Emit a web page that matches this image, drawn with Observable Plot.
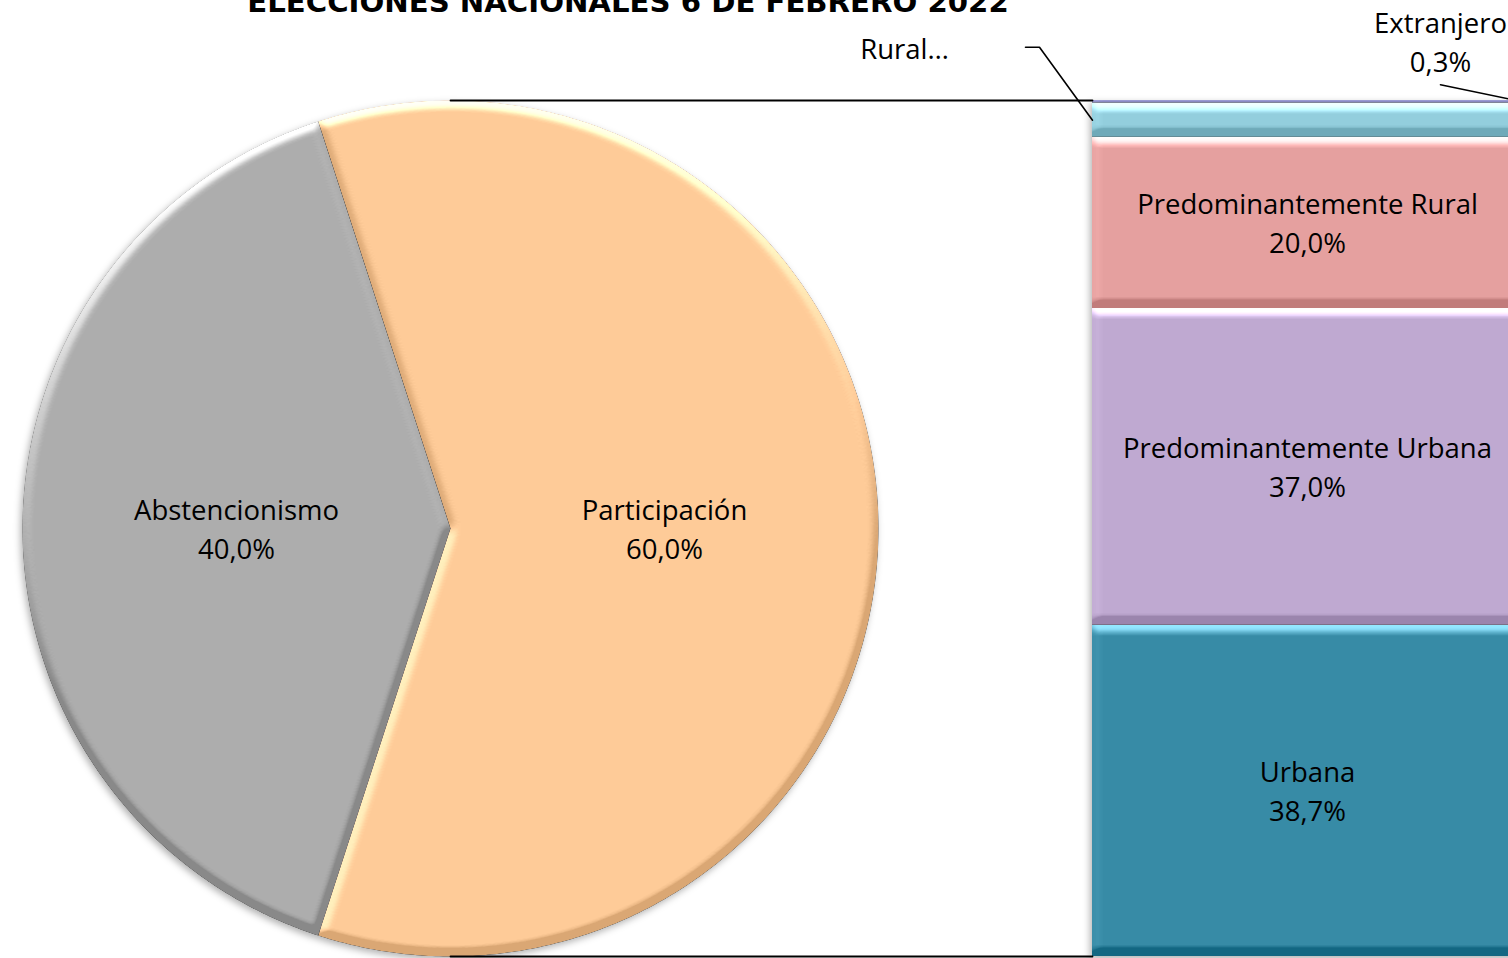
<!DOCTYPE html>
<html><head><meta charset="utf-8">
<script src="https://cdn.jsdelivr.net/npm/d3@7"></script>
<script src="https://cdn.jsdelivr.net/npm/@observablehq/plot@0.6"></script>
<style>
body{margin:0;overflow:hidden;background:#fff}
#title{position:absolute;left:0;width:1256px;top:-12.5px;text-align:center;font:bold 29.2px "DejaVu Sans";line-height:29px;white-space:nowrap;color:#000}
</style>
</head><body>
<div id="chart"></div>
<div id="title">ELECCIONES NACIONALES 6 DE FEBRERO 2022</div>
<script>
// ---- data ----
const pieLabels = ["Abstencionismo", "Participación"];
const pieValues = [40.0, 60.0];
const pieColors = ["#ADADAD", "#FECB98"];
// stacked bar, bottom to top
const barLabels = ["Urbana", "Predominantemente Urbana", "Predominantemente Rural", "Rural", "Extranjero"];
const barValues = [38.7, 37.0, 20.0, 4.0, 0.3];
const barColors = ["#378BA6", "#BFA9D1", "#E5A09F", "#93CEDD", "#8E8EC6"];

// ---- layout ----
const W = 1508, H = 958, barTopPx = 100, barBotPx = 956;
const total = d3.sum(barValues);
const k = (barBotPx - barTopPx) / total;        // px per unit (same in x and y)
const r = total / 2, cy = total / 2, cx = 450 / k;
const barX1 = 1092 / k, barX2 = 1522 / k;
const fmt = v => v.toFixed(1).replace(".", ",") + "%";

// pie
const pieData = pieLabels.map((name, i) => ({name, value: pieValues[i], color: pieColors[i]}));
const a0 = 198 * Math.PI / 180;
const arcs = d3.pie().sort(null).value(d => d.value).startAngle(a0).endAngle(a0 + 2 * Math.PI)(pieData);
const piePts = arcs.flatMap(a => {
  const n = Math.ceil((a.endAngle - a.startAngle) / (Math.PI / 360));
  const pts = [{name: a.data.name, color: a.data.color, x: cx, y: cy}];
  for (let i = 0; i <= n; i++) {
    const t = a.startAngle + (a.endAngle - a.startAngle) * i / n;
    pts.push({name: a.data.name, color: a.data.color, x: cx + r * Math.sin(t), y: cy + r * Math.cos(t)});
  }
  return pts;
});
const pieText = arcs.map(a => {
  const m = (a.startAngle + a.endAngle) / 2;
  return {x: cx + 0.5 * r * Math.sin(m), y: cy + 0.5 * r * Math.cos(m), text: a.data.name + "\n" + fmt(a.data.value)};
});

// bar
let acc = 0;
const barData = barLabels.map((name, i) => {
  const y1 = acc; acc += barValues[i];
  return {name, value: barValues[i], y1, y2: acc, ym: (y1 + acc) / 2, color: barColors[i]};
});
const inside = barData.slice(0, 3);
const rural = barData[3], ext = barData[4];
const off = (p, dx, dy) => ({x: p.x + dx / k, y: p.y - dy / k});
const ruralA = {x: barX1, y: rural.ym};
const ruralLeader = [ruralA, off(ruralA, -53, -73), off(ruralA, -67, -73)];
const ruralLbl = off(ruralA, -188, -72);
const extA = {x: barX2, y: ext.ym};
const extLeader = [extA, off(extA, -82, -17)];
const extLbl = off(extA, -82, -60);

const connectors = [
  {g: "top", x: cx, y: total}, {g: "top", x: barX1, y: total},
  {g: "bot", x: cx, y: 0}, {g: "bot", x: barX1, y: 0}
];

const font = {fontFamily: "Open Sans", fontSize: 27.5, lineHeight: 1.42, fill: "#000", dy: -1.5};

const chart = Plot.plot({
  width: W, height: H,
  marginTop: 0, marginBottom: 0, marginLeft: 0, marginRight: 0,
  x: {domain: [0, W / k], range: [0, W], axis: null},
  y: {domain: [0, total], range: [barBotPx, barTopPx], axis: null},
  color: {type: "identity"},
  style: {background: "#fff", overflow: "hidden"},
  marks: [
    Plot.line(piePts, {x: "x", y: "y", z: "name", fill: "color", stroke: "none", curve: "linear-closed"}),
    Plot.rect(barData, {x1: barX1, x2: barX2, y1: "y1", y2: "y2", fill: "color"}),
    Plot.line(connectors, {x: "x", y: "y", z: "g", stroke: "#000", strokeWidth: 1.8}),
    Plot.text(pieText, {x: "x", y: "y", text: "text", ...font}),
    Plot.text(inside, {x: (barX1 + barX2) / 2, y: "ym", text: d => d.name + "\n" + fmt(d.value), ...font}),
    Plot.line(ruralLeader, {x: "x", y: "y", stroke: "#000", strokeWidth: 1.6}),
    Plot.line(extLeader, {x: "x", y: "y", stroke: "#000", strokeWidth: 1.6}),
    Plot.text([ruralLbl], {x: "x", y: "y", text: () => "Rural…", ...font}),
    Plot.text([extLbl], {x: "x", y: "y", text: () => ext.name + "\n" + fmt(ext.value), ...font})
  ]
});
document.getElementById("chart").append(chart);

// ---- bevel + shadow styling ----
const svg = d3.select(chart);
const defs = svg.insert("defs", ":first-child");
defs.html(`
<filter id="bevel" filterUnits="userSpaceOnUse" x="-60" y="-60" width="1700" height="1100" color-interpolation-filters="sRGB">
  <feGaussianBlur in="SourceAlpha" stdDeviation="4.5" result="b"/>
  <feDiffuseLighting in="b" surfaceScale="8" diffuseConstant="1" lighting-color="#fff" result="d">
    <feDistantLight azimuth="260" elevation="15"/>
  </feDiffuseLighting>
  <feComposite in="SourceGraphic" in2="d" operator="arithmetic" k1="0" k2="1" k3="0.55" k4="-0.1424" result="c"/>
  <feComposite in="c" in2="SourceAlpha" operator="in"/>
</filter>
<filter id="shadow" filterUnits="userSpaceOnUse" x="-60" y="-60" width="1700" height="1100" color-interpolation-filters="sRGB">
  <feDropShadow dx="-2" dy="3" stdDeviation="3.5" flood-color="#000" flood-opacity="0.3"/>
</filter>`);
const lineGroups = chart.querySelectorAll('g[aria-label="line"]');
const pieG = lineGroups[0];
const rectG = chart.querySelector('g[aria-label="rect"]');
[pieG, rectG].forEach(g => {
  if (!g) return;
  g.setAttribute("filter", "url(#shadow)");
  g.querySelectorAll("path, rect").forEach(el => el.setAttribute("filter", "url(#bevel)"));
});
</script>
</body></html>
